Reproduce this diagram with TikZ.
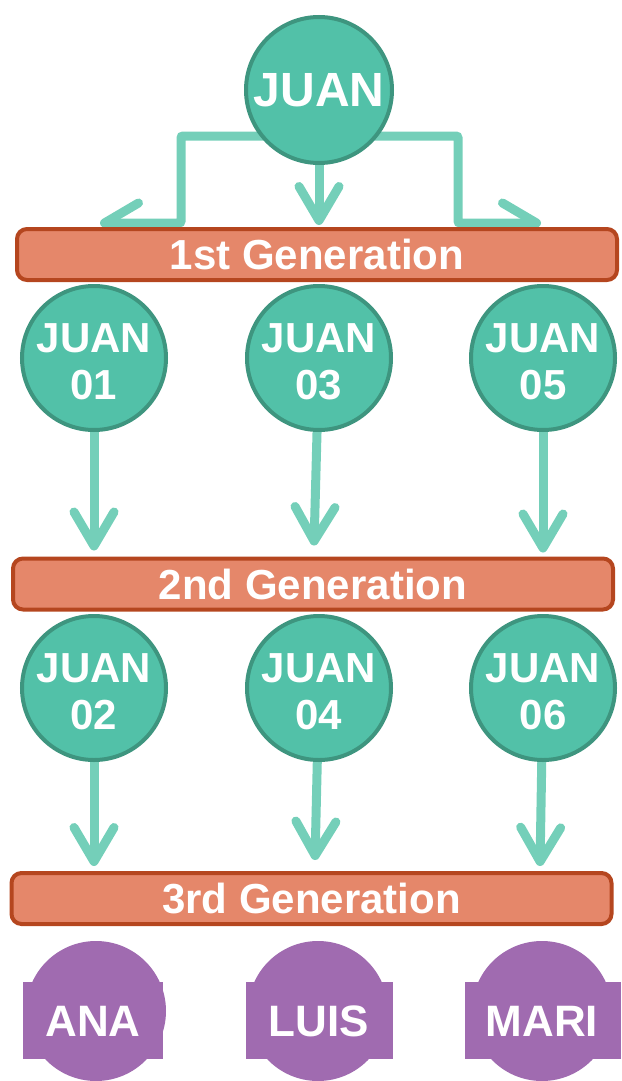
\documentclass[tikz,border=0pt]{standalone}
\usepackage{fontspec}
\setmainfont{Liberation Sans}
\usetikzlibrary{arrows.meta,backgrounds}
\definecolor{juanfill}{HTML}{52C1A8}
\definecolor{juanline}{HTML}{3E957F}
\definecolor{arrowcol}{HTML}{74CFB9}
\definecolor{genfill}{HTML}{E5876A}
\definecolor{genline}{HTML}{B5461F}
\definecolor{kidfill}{HTML}{A06BB0}
\tikzset{
  juan/.style={circle,fill=juanfill,draw=juanline,line width=4pt,minimum size=144pt,
    inner sep=0pt,text=white,align=center,font=\bfseries\fontsize{42}{47}\selectfont},
  juantwo/.style={juan,text height=82pt,text depth=0pt},
  gen/.style={rectangle,rounded corners=10pt,fill=genfill,draw=genline,line width=4pt,
    minimum width=600pt,minimum height=51pt,inner sep=0pt,text=white,
    font=\bfseries\fontsize{42}{47}\selectfont},
  conn/.style={draw=arrowcol,line width=9pt,->},
  kid/.style={text=white,font=\bfseries\fontsize{44}{48}\selectfont},
}

\begin{document}
\begin{tikzpicture}[x=1pt,y=-1pt,>={Straight Barb[round,length=34pt,width=40pt]}]
\useasboundingbox (0,0) rectangle (621,1081);
\clip (0,0) rectangle (621,1081);
% parents
\node[juan,minimum size=146pt,font=\bfseries\fontsize{48}{52}\selectfont] (top) at (319,90) {JUAN};
\node[gen] (gen1) at (317,254.5) {1st Generation};
\node[juantwo] (j01) at (94,358) {JUAN\\01};
\node[juantwo] (j03) at (319,358) {JUAN\\03};
\node[juantwo] (j05) at (543,358) {JUAN\\05};
\node[gen] (gen2) at (313,584) {2nd Generation};
\node[juantwo] (j02) at (94,688) {JUAN\\02};
\node[juantwo] (j04) at (319,688) {JUAN\\04};
\node[juantwo] (j06) at (543,688) {JUAN\\06};
\node[gen] (gen3) at (311.5,898.5) {3rd Generation};
% children
\fill[kidfill] (96,1011) circle (70pt);
\fill[kidfill] (23,982) rectangle (163,1059);
\fill[kidfill] (318,1011) circle (70pt);
\fill[kidfill] (246,982) rectangle (393,1059);
\fill[kidfill] (542,1011) circle (70pt);
\fill[kidfill] (465,982) rectangle (621,1059);
\node[kid] (ana) at (93,1021) {ANA};
\node[kid] (luis) at (319,1021) {LUIS};
\node[kid] (mari) at (542,1021) {MARI};
% arrows
\coordinate (l1) at (181,136);
\coordinate (l2) at (181,223);
\coordinate (ltip) at (100,223);
\coordinate (r1) at (458,136);
\coordinate (r2) at (458,223);
\coordinate (rtip) at (541,223);
\begin{pgfonlayer}{background}
\draw[conn,<->,rounded corners=2pt] (ltip) -- (l2) -- (l1) -- (r1) -- (r2) -- (rtip);
\draw[conn] (top) -- ([yshift=2pt]top |- gen1.north);
\draw[conn] (j01) -- ([yshift=6pt]j01 |- gen2.north);
\draw[conn] (j03) -- ([xshift=-5pt,yshift=11pt]j03 |- gen2.north);
\draw[conn] (j05) -- ([yshift=4pt]j05 |- gen2.north);
\draw[conn] (j02) -- ([yshift=5pt]j02 |- gen3.north);
\draw[conn] (j04) -- ([xshift=-4pt,yshift=11pt]j04 |- gen3.north);
\draw[conn] (j06) -- ([xshift=-3pt,yshift=5pt]j06 |- gen3.north);
\end{pgfonlayer}
%\node at (40,5) {};
\end{tikzpicture}
\end{document}
